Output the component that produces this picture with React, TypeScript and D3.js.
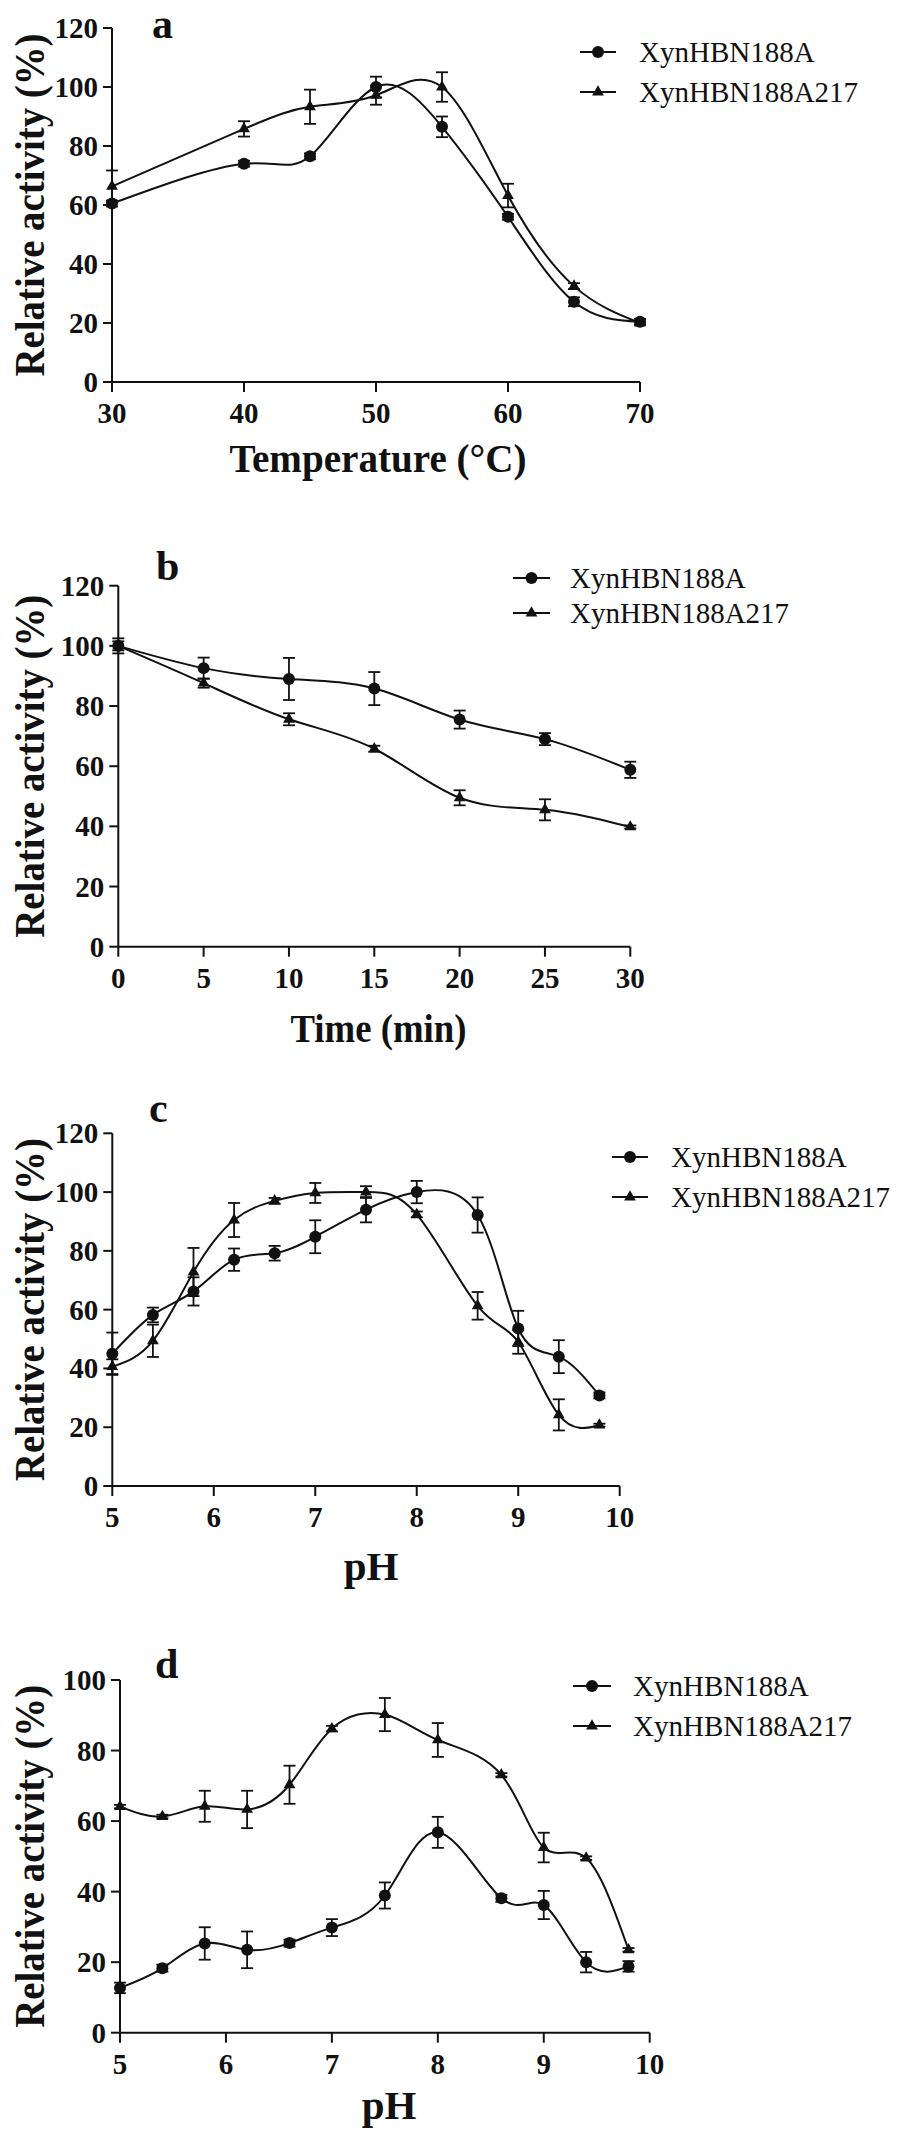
import React from 'react';
import * as d3 from 'd3';

// ---------- data ----------
const tempX = [30, 40, 45, 50, 55, 60, 65, 70];
const aCircle = [60.5, 74, 76.5, 100, 86.5, 56, 27.2, 20.4];
const aCircleErr = [1, 1, 1, 3.5, 3.5, 1, 1.5, 1];
const aTri = [66.3, 85.8, 93.3, 97.2, 100, 63.2, 32.5, 20];
const aTriErr = [5.4, 2.6, 5.8, 3.2, 5, 4, 1, 0.5];

const timeX = [0, 5, 10, 15, 20, 25, 30];
const bCircle = [100, 92.6, 89, 85.8, 75.5, 69, 58.8];
const bCircleErr = [2.5, 3.5, 7, 5.5, 3, 2, 2.7];
const bTri = [100, 87.6, 75.6, 65.8, 49.5, 45.5, 39.8];
const bTriErr = [1.5, 1.5, 2, 1, 2.5, 3.5, 0.5];

const phX = [5, 5.4, 5.8, 6.2, 6.6, 7, 7.5, 8, 8.6, 9, 9.4, 9.8];
const cCircle = [45, 58.2, 66.2, 77, 79.2, 84.8, 94, 100, 92.2, 53.6, 44, 30.8];
const cCircleErr = [7.2, 2.5, 4.8, 3.8, 2.5, 5.6, 4.3, 3.8, 6, 6, 5.6, 1];
const cTri = [40.6, 49.4, 72.8, 90.5, 97, 99.7, 100, 92.4, 61.3, 49, 24.2, 20.7];
const cTriErr = [2.5, 5.5, 8.2, 5.8, 1, 3.4, 2, 1, 4.7, 4, 5.3, 0.5];

const dCircle = [12.7, 18.3, 25.3, 23.5, 25.4, 29.8, 38.9, 56.8, 38.1, 36.2, 20, 18.8];
const dCircleErr = [1.5, 1, 4.6, 5.2, 1, 2.4, 3.7, 4.4, 1, 4, 2.9, 1.5];
const dTri = [64.1, 61.3, 64.2, 63.3, 70.3, 86.2, 90.2, 83, 73.1, 52.5, 49.5, 23.5];
const dTriErr = [0.5, 0.5, 4.4, 5.3, 5.4, 0.8, 4.7, 4.8, 0.5, 4.2, 0.5, 0.5];

const tempTicks = [30, 40, 50, 60, 70];
const timeTicks = [0, 5, 10, 15, 20, 25, 30];
const phTicks = [5, 6, 7, 8, 9, 10];
const y120Ticks = [0, 20, 40, 60, 80, 100, 120];
const y100Ticks = [0, 20, 40, 60, 80, 100];

const seriesNames = ['XynHBN188A', 'XynHBN188A217'];
const yTitle = 'Relative activity (%)';

// ---------- layout ----------
const FONT = '"Liberation Serif", "Times New Roman", Times, serif';
const INK = '#111';

type Cfg = {
  letter: string;
  xs: number[];
  s1: number[]; e1: number[];
  s2: number[]; e2: number[];
  xDomain: [number, number]; xTicks: number[];
  yDomain: [number, number]; yTicks: number[];
  xTitle: string; xTitleLen: number | null;
  left: number; right: number; top: number; bottom: number;
  letterPos: [number, number];
  xTitlePos: [number, number];
  legend: { x1: number; x2: number; y1: number; y2: number; tx: number };
};

const panels: Cfg[] = [
  {
    letter: 'a', xs: tempX, s1: aCircle, e1: aCircleErr, s2: aTri, e2: aTriErr,
    xDomain: [30, 70], xTicks: tempTicks, yDomain: [0, 120], yTicks: y120Ticks,
    xTitle: 'Temperature (°C)', xTitleLen: 297,
    left: 112, right: 640, top: 28, bottom: 382,
    letterPos: [152, 38], xTitlePos: [378, 472],
    legend: { x1: 580, x2: 616, y1: 52, y2: 92, tx: 639 },
  },
  {
    letter: 'b', xs: timeX, s1: bCircle, e1: bCircleErr, s2: bTri, e2: bTriErr,
    xDomain: [0, 30], xTicks: timeTicks, yDomain: [0, 120], yTicks: y120Ticks,
    xTitle: 'Time (min)', xTitleLen: 176,
    left: 118.3, right: 630.3, top: 585.7, bottom: 946.7,
    letterPos: [156, 580], xTitlePos: [378.5, 1042],
    legend: { x1: 513, x2: 550, y1: 578, y2: 613, tx: 570 },
  },
  {
    letter: 'c', xs: phX, s1: cCircle, e1: cCircleErr, s2: cTri, e2: cTriErr,
    xDomain: [5, 10], xTicks: phTicks, yDomain: [0, 120], yTicks: y120Ticks,
    xTitle: 'pH', xTitleLen: null,
    left: 112.3, right: 619.7, top: 1133.3, bottom: 1486,
    letterPos: [149, 1122], xTitlePos: [371, 1580],
    legend: { x1: 612, x2: 648, y1: 1157, y2: 1197, tx: 671 },
  },
  {
    letter: 'd', xs: phX, s1: dCircle, e1: dCircleErr, s2: dTri, e2: dTriErr,
    xDomain: [5, 10], xTicks: phTicks, yDomain: [0, 100], yTicks: y100Ticks,
    xTitle: 'pH', xTitleLen: null,
    left: 120, right: 649.7, top: 1680, bottom: 2032.7,
    letterPos: [155, 1678], xTitlePos: [389, 2119],
    legend: { x1: 573, x2: 611, y1: 1686, y2: 1726, tx: 633 },
  },
];

const circlePath = d3.symbol(d3.symbolCircle, Math.PI * 6 * 6)()!;
const triPath = d3.symbol(d3.symbolTriangle, 60)()!;

function Series({ xs, ys, es, x, y, marker }: {
  xs: number[]; ys: number[]; es: number[];
  x: d3.ScaleLinear<number, number>; y: d3.ScaleLinear<number, number>; marker: string;
}) {
  const pts = xs.map((v, i) => [x(v), y(ys[i])] as [number, number]);
  const line = d3.line().curve(d3.curveNatural)(pts)!;
  return (
    <g>
      <path d={line} fill="none" stroke={INK} strokeWidth={2} />
      {xs.map((v, i) => {
        const cx = x(v);
        const yt = y(ys[i] + es[i]);
        const yb = y(ys[i] - es[i]);
        return (
          <g key={'e' + i} stroke={INK} strokeWidth={1.8}>
            <line x1={cx} x2={cx} y1={yt} y2={yb} />
            <line x1={cx - 6} x2={cx + 6} y1={yt} y2={yt} />
            <line x1={cx - 6} x2={cx + 6} y1={yb} y2={yb} />
          </g>
        );
      })}
      {pts.map((p, i) => (
        <path key={'m' + i} d={marker} transform={`translate(${p[0]},${p[1]})`} fill={INK} />
      ))}
    </g>
  );
}

function Panel({ c }: { c: Cfg }) {
  const x = d3.scaleLinear().domain(c.xDomain).range([c.left, c.right]);
  const y = d3.scaleLinear().domain(c.yDomain).range([c.bottom, c.top]);
  const midY = (c.top + c.bottom) / 2;
  const lg = c.legend;
  return (
    <g fontFamily={FONT} fill={INK}>
      {/* axes */}
      <line x1={c.left} x2={c.left} y1={c.top} y2={c.bottom} stroke={INK} strokeWidth={2} />
      <line x1={c.left} x2={c.right} y1={c.bottom} y2={c.bottom} stroke={INK} strokeWidth={2} />
      {c.yTicks.map((t) => (
        <g key={'y' + t}>
          <line x1={c.left - 9} x2={c.left} y1={y(t)} y2={y(t)} stroke={INK} strokeWidth={2} />
          <text x={c.left - 14} y={y(t) + 10} textAnchor="end" fontSize={29} fontWeight="bold">{t}</text>
        </g>
      ))}
      {c.xTicks.map((t) => (
        <g key={'x' + t}>
          <line x1={x(t)} x2={x(t)} y1={c.bottom} y2={c.bottom + 10} stroke={INK} strokeWidth={2} />
          <text x={x(t)} y={c.bottom + 41} textAnchor="middle" fontSize={29} fontWeight="bold">{t}</text>
        </g>
      ))}
      {/* titles */}
      <text
        transform={`translate(44,${midY}) rotate(-90)`}
        textAnchor="middle" fontSize={42} fontWeight="bold"
        textLength={343} lengthAdjust="spacingAndGlyphs"
      >{yTitle}</text>
      <text
        x={c.xTitlePos[0]} y={c.xTitlePos[1]} textAnchor="middle" fontSize={41} fontWeight="bold"
        {...(c.xTitleLen ? { textLength: c.xTitleLen, lengthAdjust: 'spacingAndGlyphs' } : {})}
      >{c.xTitle}</text>
      <text x={c.letterPos[0]} y={c.letterPos[1]} fontSize={42} fontWeight="bold">{c.letter}</text>
      {/* data */}
      <Series xs={c.xs} ys={c.s2} es={c.e2} x={x} y={y} marker={triPath} />
      <Series xs={c.xs} ys={c.s1} es={c.e1} x={x} y={y} marker={circlePath} />
      {/* legend */}
      {[lg.y1, lg.y2].map((ly, i) => (
        <g key={'lg' + i}>
          <line x1={lg.x1} x2={lg.x2} y1={ly} y2={ly} stroke={INK} strokeWidth={2} />
          <path d={i === 0 ? circlePath : triPath} transform={`translate(${(lg.x1 + lg.x2) / 2},${ly})`} fill={INK} />
          <text x={lg.tx} y={ly + 10} fontSize={29}>{seriesNames[i]}</text>
        </g>
      ))}
    </g>
  );
}

export default function App() {
  return (
    <svg
      width={898} height={2135} viewBox="0 0 898 2135"
      style={{ position: 'absolute', left: 0, top: 0, background: '#fff' }}
    >
      <rect x={0} y={0} width={898} height={2135} fill="#fff" />
      {panels.map((p) => <Panel key={p.letter} c={p} />)}
    </svg>
  );
}
